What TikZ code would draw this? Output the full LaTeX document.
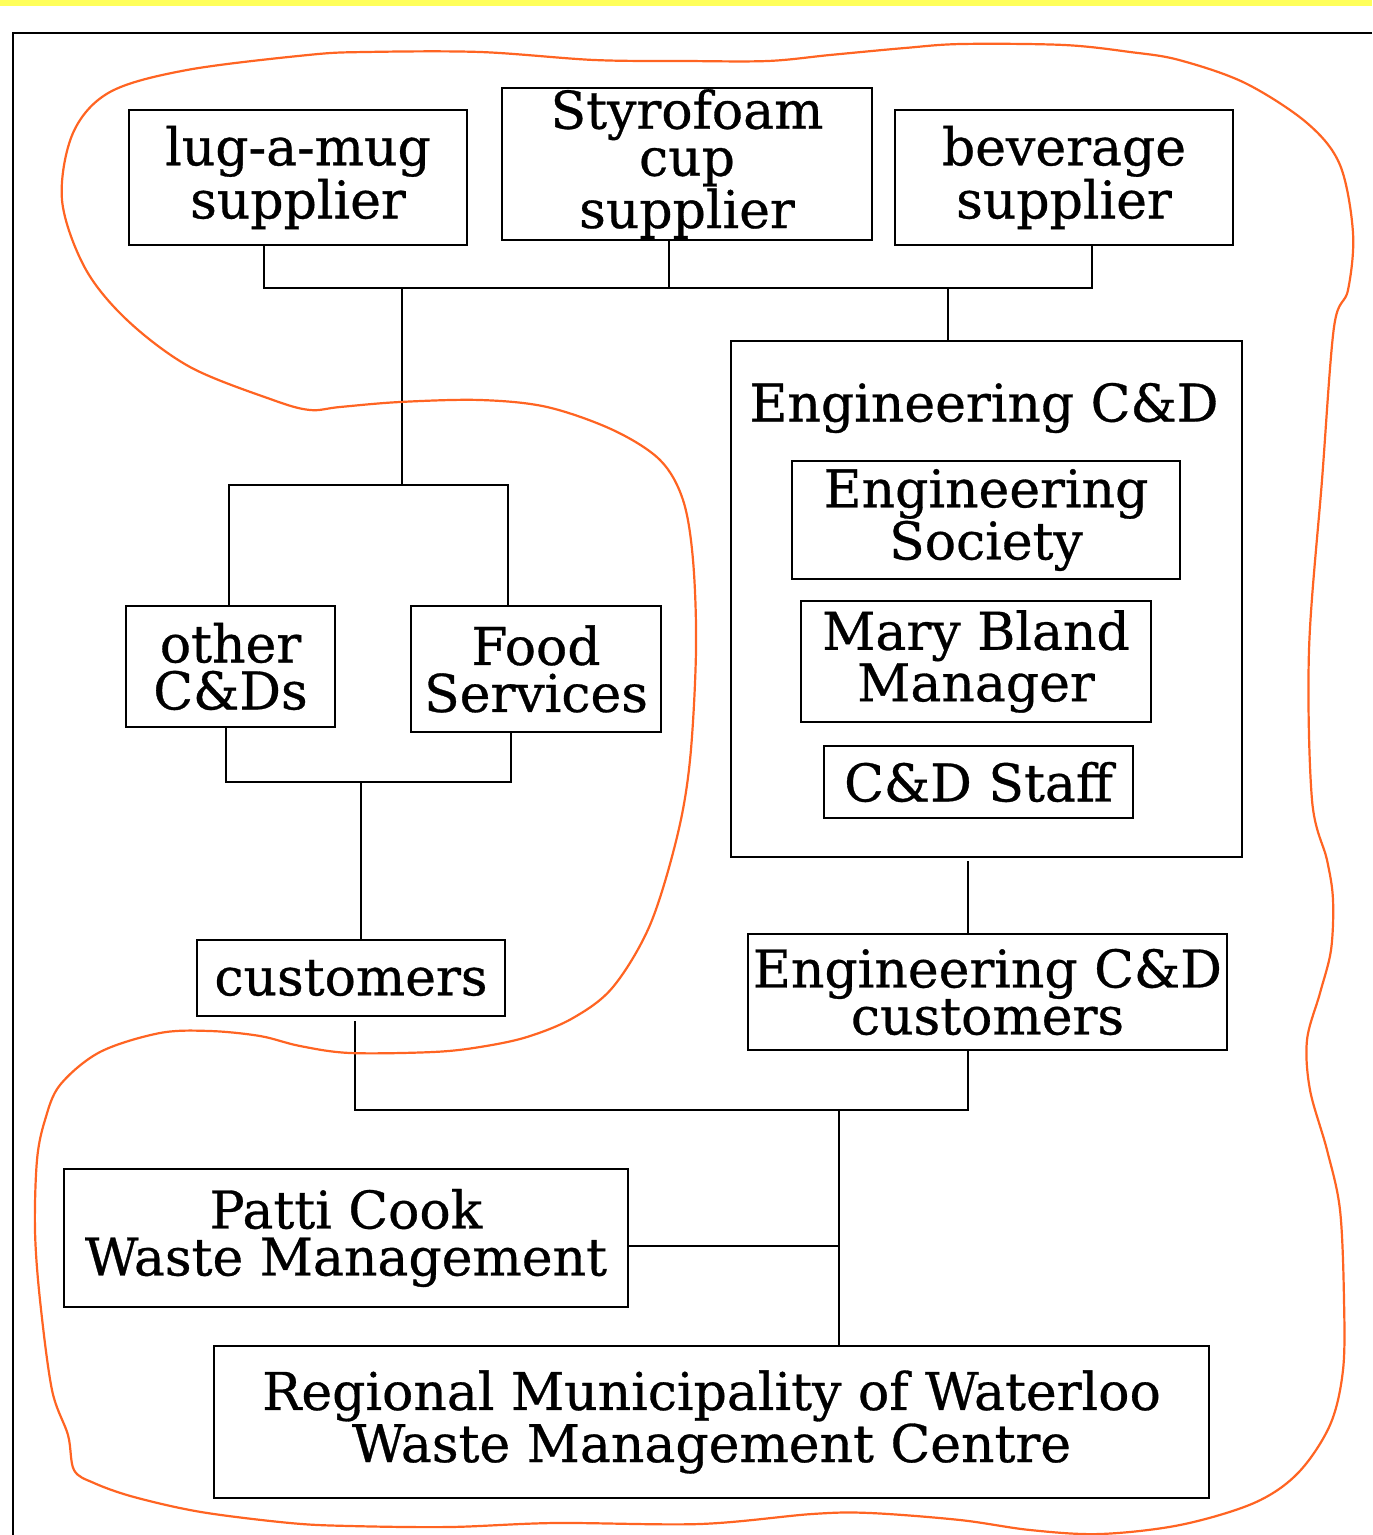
\documentclass[tikz,border=0pt]{standalone}
\usepackage{fontspec}
\setmainfont{DejaVu Serif}
\newfontfamily\diagface{DejaVu Serif}[RawFeature={embolden=0.6}]
\newcommand\diagfont{\diagface\fontsize{26pt}{23.5pt}\selectfont}
\definecolor{curveorange}{RGB}{255,100,34}
\definecolor{topyellow}{RGB}{255,255,90}
\tikzset{
  box/.style={draw, line width=1.2pt, inner sep=0pt, align=center, font=\diagfont},
  label/.style={inner sep=0pt, align=center, font=\diagfont},
  conn/.style={line width=1.1pt},
  blob/.style={draw=curveorange, line width=1.1pt}
}
\begin{document}
\begin{tikzpicture}[x=0.5pt,y=-0.5pt]
\useasboundingbox (0,0) rectangle (1372,1535);
\fill[white] (0,0) rectangle (1372,1535);
\fill[topyellow] (0,0) rectangle (1372,6);
\draw[line width=1.2pt] (1372,33) -- (13,33) -- (13,1535);

% boxes
\node[box, minimum width=169pt, minimum height=67.5pt] (lug) at (298,177.5) {lug-a-mug\\supplier};
\node[box, minimum width=185pt, minimum height=76pt] (sty) at (687,164) {Styrofoam\\cup\\supplier};
\node[box, minimum width=169pt, minimum height=67.5pt] (bev) at (1064,177.5) {beverage\\supplier};
\node[box, minimum width=255.5pt, minimum height=258pt] (eng) at (986.5,599) {};
\node[label] (engtitle) at (984,408) {Engineering C\&D};
\node[box, minimum width=194pt, minimum height=59pt] (soc) at (986,520) {Engineering\\Society};
\node[box, minimum width=175pt, minimum height=60.5pt] (mary) at (976,661.5) {Mary Bland\\Manager};
\node[box, minimum width=154.5pt, minimum height=36pt] (staff) at (978.5,782) {C\&D Staff};
\node[box, minimum width=104.5pt, minimum height=60.5pt] (oth) at (230.5,666.5) {other\\C\&Ds};
\node[box, minimum width=125pt, minimum height=63pt] (food) at (536,669) {Food\\Services};
\node[box, minimum width=154pt, minimum height=38pt] (cust) at (351,978) {customers};
\node[box, minimum width=239.5pt, minimum height=58pt] (engc) at (987.5,992) {Engineering C\&D\\customers};
\node[box, minimum width=282pt, minimum height=69pt] (pat) at (346,1238) {Patti Cook\\Waste Management};
\node[box, minimum width=497.5pt, minimum height=76pt] (reg) at (711.5,1422) {Regional Municipality of Waterloo\\Waste Management Centre};

% junction coordinates
\coordinate (a1) at (264,288);
\coordinate (a2) at (669,288);
\coordinate (a3) at (1092,288);
\coordinate (a4) at (948,288);
\coordinate (b1) at (402,288);
\coordinate (t1) at (229,485);
\coordinate (t2) at (508,485);
\coordinate (u1) at (226,782);
\coordinate (u2) at (511,782);
\coordinate (u3) at (361,782);
\coordinate (v0) at (355,1110);
\coordinate (v1) at (968,1110);
\coordinate (w1) at (839,1110);
\coordinate (w2) at (839,1246);

% connectors
\draw[conn] (a1 |- lug.south) -- (a1) -- (a3) -- (a3 |- bev.south);
\draw[conn] (a2 |- sty.south) -- (a2);
\draw[conn] (a4) -- (a4 |- eng.north);
\draw[conn] (b1) -- (b1 |- t1);
\draw[conn] (t1 |- oth.north) -- (t1) -- (t2) -- (t2 |- food.north);
\draw[conn] (u1 |- oth.south) -- (u1) -- (u2) -- (u2 |- food.south);
\draw[conn] (u3) -- (u3 |- cust.north);
\draw[conn] ([yshift=-1.5pt]v1 |- eng.south) -- (v1 |- engc.north);
\draw[conn] (v1 |- engc.south) -- (v1) -- (v0) -- ([yshift=-2pt]v0 |- cust.south);
\draw[conn] (w1) -- (w1 |- reg.north);
\draw[conn] (pat.east |- w2) -- (w2);

% orange boundary
\draw[blob] plot[smooth cycle, tension=0.55] coordinates {
(62,200) (73,133) (110,92) (187,70) (308,55) (366,52) (480,52) (594,60) (685,61)
(768,61) (830,55) (905,48) (962,44) (1064,45) (1130,52) (1179,60) (1245,83)
(1307,123) (1340,165) (1353,233) (1348,290) (1334,327) (1322,480) (1309,650)
(1312,800) (1327,860) (1333,900) (1331,950) (1320,993) (1307,1040) (1310,1090)
(1327,1150) (1340,1210) (1344,1300) (1343,1370) (1330,1425) (1298,1473)
(1254,1503) (1180,1525) (1100,1534) (1030,1530) (960,1520) (870,1513) (812,1514)
(700,1524) (555,1523) (450,1527) (350,1526) (290,1523) (201,1512) (134,1497)
(94,1483) (74,1470) (68,1435) (52,1390) (40,1300) (35,1230) (37,1160) (45,1120)
(60,1085) (100,1052) (160,1033) (210,1031) (260,1036) (300,1046) (350,1053)
(433,1052) (480,1047) (527,1037) (573,1018) (613,987) (650,925) (677,837)
(690,760) (696,650) (693,560) (683,500) (660,460) (613,430) (547,407) (480,400)
(400,402) (340,407) (310,410) (273,400) (190,367) (127,320) (85,268)};
\end{tikzpicture}
\end{document}
